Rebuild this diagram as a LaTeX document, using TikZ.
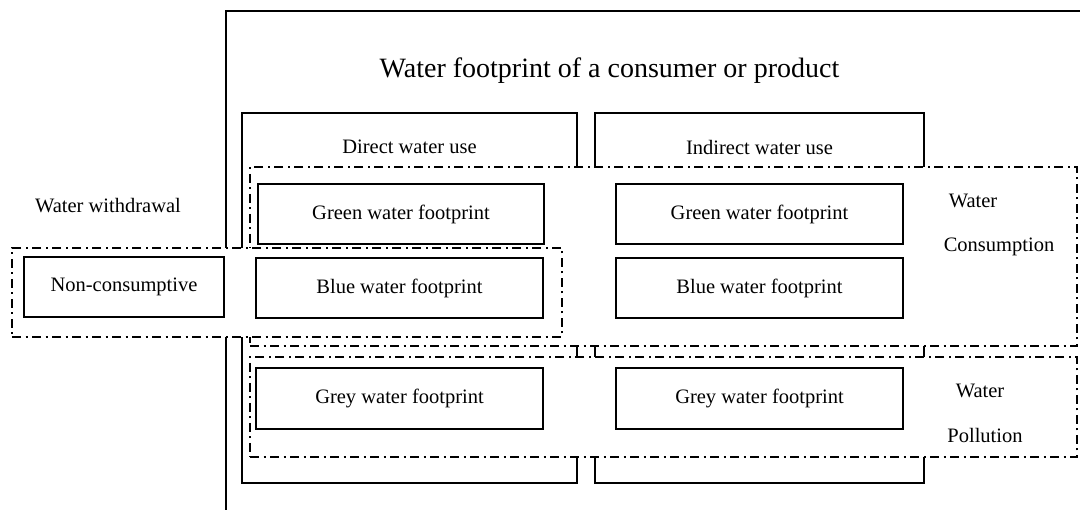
\documentclass[tikz,border=0pt]{standalone}
\usepackage{fontspec}
\setmainfont{Liberation Serif}
\begin{document}
\begin{tikzpicture}[x=1pt,y=-1pt,
  solidbox/.style={draw=black,line width=1.8pt,fill=white,inner sep=0pt},
  groupbox/.style={draw=black,line width=1.3pt,fill=white,inner sep=0pt,
    dash pattern=on 9pt off 4.5pt on 2pt off 4.5pt},
  fpbox/.style={draw=black,line width=1.8pt,fill=white,inner sep=0pt,
    minimum width=287pt,minimum height=60pt,
    font=\fontsize{20.5}{24}\selectfont},
  txt/.style={inner sep=0pt,anchor=base,font=\fontsize{20.5}{24}\selectfont}]
\useasboundingbox (0,0) rectangle (1080,510);
\clip (0,0) rectangle (1080,510);

% outer frame (runs past the page on the right and bottom)
\coordinate (outerbl) at (226,530);
\coordinate (outertr) at (1100,11);
\draw[line width=1.8pt] (outerbl) |- (outertr);
\node[inner sep=0pt,anchor=base,font=\fontsize{28}{32}\selectfont] (title) at (609.5,78)
  {Water footprint of a consumer or product};

% direct / indirect use columns
\node[solidbox,minimum width=335pt,minimum height=370pt] (direct) at (409.5,298) {};
\node[solidbox,minimum width=329pt,minimum height=370pt] (indirect) at (759.5,298) {};
\node[txt] (directlbl) at (409.5,154) {Direct water use};
\node[txt] (indirectlbl) at (759.5,155) {Indirect water use};

% consumption / pollution bands
\node[groupbox,minimum width=827pt,minimum height=179pt] (consumption) at (663.5,256.5) {};
\node[groupbox,minimum width=827pt,minimum height=100pt] (pollution) at (663.5,407) {};

% withdrawal band
\node[groupbox,minimum width=550pt,minimum height=89pt] (withdrawal) at (287,292.5) {};
\node[txt] (withdrawallbl) at (108,213) {Water withdrawal};

% footprint boxes
\node[fpbox,minimum width=200pt] (noncons) at (124,287) {Non-consumptive};
\node[fpbox,minimum width=286pt] (greendir) at (401,214) {Green water footprint};
\node[fpbox] (bluedir) at (399.5,288) {Blue water footprint};
\node[fpbox,minimum height=61pt] (greydir) at (399.5,398.5) {Grey water footprint};
\node[fpbox] (greenind) at (759.5,214) {Green water footprint};
\node[fpbox] (blueind) at (759.5,288) {Blue water footprint};
\node[fpbox,minimum height=61pt] (greyind) at (759.5,398.5) {Grey water footprint};

% band labels
\node[txt] (conslbl1) at (973,208) {Water};
\node[txt] (conslbl2) at (999,252) {Consumption};
\node[txt] (polllbl1) at (980,398) {Water};
\node[txt] (polllbl2) at (985,443) {Pollution};
\end{tikzpicture}
\end{document}
